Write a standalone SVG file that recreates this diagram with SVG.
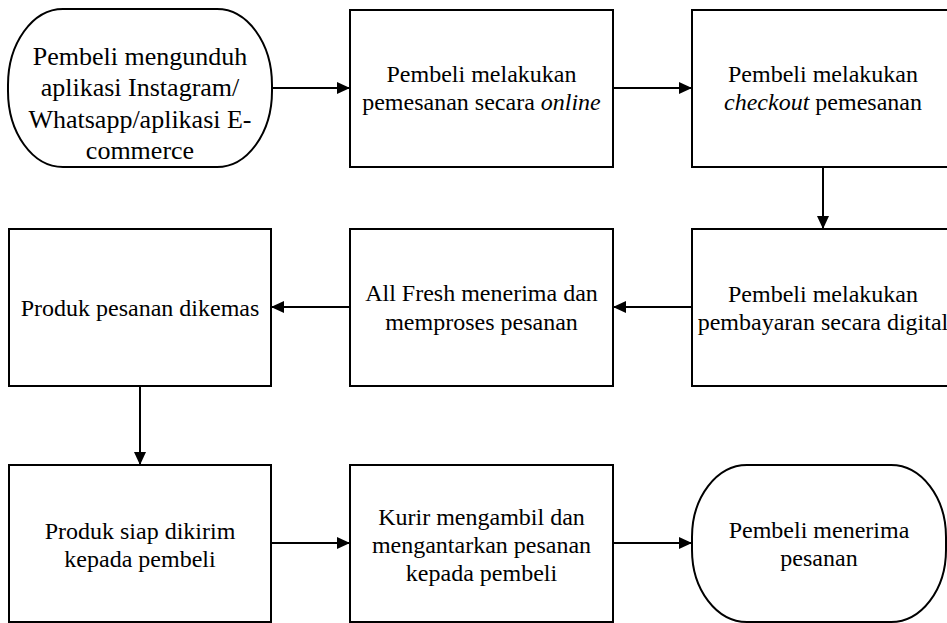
<svg xmlns="http://www.w3.org/2000/svg" width="947" height="623" viewBox="0 0 947 623">
  <style>
    .box { fill: #fff; stroke: #000; stroke-width: 2; }
    .t { font-family: "Liberation Serif", "Times New Roman", serif; font-size: 24px; fill: #000; text-anchor: middle; }
    .ts { font-size: 26px; }
    .conn { stroke: #000; stroke-width: 2; fill: none; marker-end: url(#arrow); }
  </style>
  <defs>
    <marker id="arrow" markerUnits="userSpaceOnUse" markerWidth="14" markerHeight="12" refX="13" refY="6" orient="auto">
      <path d="M0,0 L13,6 L0,12 Z" fill="#000"/>
    </marker>
  </defs>
  <rect width="947" height="623" fill="#fff"/>

  <g id="connectors">
    <line class="conn" x1="272" y1="88" x2="350" y2="88"/>
    <line class="conn" x1="613" y1="88" x2="692" y2="88"/>
    <line class="conn" x1="823" y1="167" x2="823" y2="229"/>
    <line class="conn" x1="692" y1="307" x2="613" y2="307"/>
    <line class="conn" x1="350" y1="307" x2="271" y2="307"/>
    <line class="conn" x1="140" y1="386" x2="140" y2="465"/>
    <line class="conn" x1="271" y1="543" x2="350" y2="543"/>
    <line class="conn" x1="613" y1="543" x2="692" y2="543"/>
  </g>

  <g id="n1">
    <rect class="box" x="8" y="9" width="264" height="158" rx="55" ry="76"/>
    <text class="t ts" x="140" y="65">Pembeli mengunduh</text>
    <text class="t ts" x="140" y="96">aplikasi Instagram/</text>
    <text class="t ts" x="140" y="128">Whatsapp/aplikasi E-</text>
    <text class="t ts" x="140" y="159">commerce</text>
  </g>

  <g id="n2">
    <rect class="box" x="350" y="10" width="263" height="157"/>
    <text class="t" x="481.5" y="82">Pembeli melakukan</text>
    <text class="t" x="481.5" y="110">pemesanan secara <tspan font-style="italic">online</tspan></text>
  </g>

  <g id="n3">
    <rect class="box" x="692" y="10" width="263" height="157"/>
    <text class="t" x="823" y="82">Pembeli melakukan</text>
    <text class="t" x="823" y="110"><tspan font-style="italic">checkout</tspan> pemesanan</text>
  </g>

  <g id="n4">
    <rect class="box" x="692" y="229" width="263" height="157"/>
    <text class="t" x="823" y="302">Pembeli melakukan</text>
    <text class="t" x="823" y="330">pembayaran secara digital</text>
  </g>

  <g id="n5">
    <rect class="box" x="350" y="229" width="263" height="157"/>
    <text class="t" x="481.5" y="301">All Fresh menerima dan</text>
    <text class="t" x="481.5" y="330">memproses pesanan</text>
  </g>

  <g id="n6">
    <rect class="box" x="9" y="229" width="262" height="157"/>
    <text class="t" x="140" y="316">Produk pesanan dikemas</text>
  </g>

  <g id="n7">
    <rect class="box" x="9" y="465" width="262" height="157"/>
    <text class="t" x="140" y="539">Produk siap dikirim</text>
    <text class="t" x="140" y="567">kepada pembeli</text>
  </g>

  <g id="n8">
    <rect class="box" x="350" y="465" width="263" height="157"/>
    <text class="t" x="481.5" y="525">Kurir mengambil dan</text>
    <text class="t" x="481.5" y="553">mengantarkan pesanan</text>
    <text class="t" x="481.5" y="581">kepada pembeli</text>
  </g>

  <g id="n9">
    <rect class="box" x="692" y="465" width="254" height="157" rx="55" ry="72"/>
    <text class="t" x="819" y="538">Pembeli menerima</text>
    <text class="t" x="819" y="566">pesanan</text>
  </g>
</svg>
